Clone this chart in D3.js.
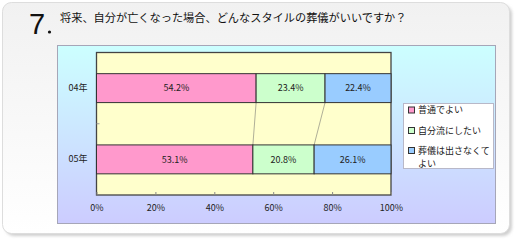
<!DOCTYPE html>
<html>
<head>
<meta charset="utf-8">
<script src="https://cdn.jsdelivr.net/npm/d3@7"></script>
<style>
  body { margin: 0; background: #fff; }
  text { font-family: "Noto Sans CJK JP", "Noto Sans", sans-serif; fill: #222; }
</style>
</head>
<body>
<div id="chart"></div>
<script>
// chart data
var categories = ["04年", "05年"];
var seriesNames = ["普通でよい", "自分流にしたい", "葬儀は出さなくて\nよい"];
var ordinary = [54.2, 53.1];
var ownStyle = [23.4, 20.8];
var noFuneral = [22.4, 26.1];
var xTicks = [0, 20, 40, 60, 80, 100];
var colors = ["#ff99cc", "#ccffcc", "#99ccff"];

var width = 521, height = 246;

var svg = d3.select("#chart")
  .append("svg")
  .attr("width", width)
  .attr("height", height);

var defs = svg.append("defs");
var cardGrad = defs.append("linearGradient").attr("id", "cardGrad")
  .attr("x1", 0).attr("y1", 0).attr("x2", 0).attr("y2", 1);
cardGrad.append("stop").attr("offset", "0%").attr("stop-color", "#f1f1f1");
cardGrad.append("stop").attr("offset", "100%").attr("stop-color", "#ffffff");

var areaGrad = defs.append("linearGradient").attr("id", "areaGrad")
  .attr("x1", 0).attr("y1", 0).attr("x2", 0).attr("y2", 1);
areaGrad.append("stop").attr("offset", "0%").attr("stop-color", "#ccffff");
areaGrad.append("stop").attr("offset", "100%").attr("stop-color", "#ccccff");

defs.append("filter").attr("id", "blur")
  .append("feGaussianBlur").attr("stdDeviation", 1.5);

// card with shadow
svg.append("rect")
  .attr("x", 5).attr("y", 5).attr("width", 507).attr("height", 231)
  .attr("rx", 9)
  .attr("fill", "#cfcfcf")
  .attr("filter", "url(#blur)");
svg.append("rect")
  .attr("x", 2.5).attr("y", 2.5).attr("width", 507).attr("height", 231)
  .attr("rx", 9)
  .attr("fill", "url(#cardGrad)")
  .attr("stroke", "#dddddd");

// title
svg.append("text")
  .attr("x", 29).attr("y", 34)
  .style("font-family", "Liberation Sans, Arial, sans-serif")
  .style("font-size", "29px")
  .style("fill", "#111")
  .text("7");
svg.append("circle")
  .attr("cx", 49.5).attr("cy", 32).attr("r", 1.6)
  .attr("fill", "#111");
svg.append("text")
  .attr("x", 60).attr("y", 22)
  .style("font-size", "11.2px")
  .style("fill", "#111")
  .text("将来、自分が亡くなった場合、どんなスタイルの葬儀がいいですか？");

// chart area
svg.append("rect")
  .attr("x", 57.5).attr("y", 45.5).attr("width", 438).attr("height", 178)
  .attr("fill", "url(#areaGrad)")
  .attr("stroke", "#a6a6b8");

var x = d3.scaleLinear().domain([0, 100]).range([96.5, 391]);
var y = d3.scaleBand().domain(categories).range([52.5, 195])
  .paddingInner(0.594).paddingOuter(0.297);

// plot area
svg.append("rect")
  .attr("x", x(0)).attr("y", 52.5)
  .attr("width", x(100) - x(0)).attr("height", 195 - 52.5)
  .attr("fill", "#ffffcc")
  .attr("stroke", "#444")
  .attr("stroke-width", 1.3);

var rows = categories.map(function(c, i) {
  return { cat: c, s0: ordinary[i], s1: ownStyle[i], s2: noFuneral[i] };
});
var stack = d3.stack().keys(["s0", "s1", "s2"]);
var series = stack(rows);

// series lines between the bars
var lineG = svg.append("g");
[0, 1].forEach(function(k) {
  for (var i = 0; i < rows.length - 1; i++) {
    lineG.append("line")
      .attr("x1", x(series[k][i][1])).attr("y1", y(rows[i].cat) + y.bandwidth())
      .attr("x2", x(series[k][i + 1][1])).attr("y2", y(rows[i + 1].cat))
      .attr("stroke", "#b0b098")
      .attr("stroke-width", 1);
  }
});

// bars
var layer = svg.selectAll("g.layer")
  .data(series)
  .enter()
  .append("g")
  .attr("class", "layer")
  .attr("fill", function(d, i) { return colors[i]; });

layer.selectAll("rect")
  .data(function(d) { return d; })
  .enter()
  .append("rect")
  .attr("x", function(d) { return x(d[0]); })
  .attr("y", function(d) { return y(d.data.cat); })
  .attr("width", function(d) { return x(d[1]) - x(d[0]); })
  .attr("height", y.bandwidth())
  .attr("stroke", "#333")
  .attr("stroke-width", 1);

layer.selectAll("text")
  .data(function(d) { return d; })
  .enter()
  .append("text")
  .attr("x", function(d) { return (x(d[0]) + x(d[1])) / 2; })
  .attr("y", function(d) { return y(d.data.cat) + y.bandwidth() / 2; })
  .attr("dy", "0.35em")
  .attr("text-anchor", "middle")
  .style("font-size", "9px")
  .text(function(d) { return (d[1] - d[0]).toFixed(1) + "%"; });

// axes
var xAxis = svg.append("g")
  .attr("transform", "translate(0,195)")
  .call(d3.axisBottom(x)
    .tickValues(xTicks)
    .tickSizeInner(-3)
    .tickSizeOuter(0)
    .tickPadding(10)
    .tickFormat(function(d) { return d + "%"; }));
xAxis.select(".domain").remove();
xAxis.selectAll(".tick line").attr("stroke", "#888");
xAxis.selectAll("text").style("font-size", "9px").style("font-family", null).attr("fill", "#222");

var yAxis = svg.append("g")
  .attr("transform", "translate(" + x(0) + ",0)")
  .call(d3.axisLeft(y).tickSize(0).tickPadding(9));
yAxis.select(".domain").remove();
yAxis.selectAll("text").style("font-size", "9px").style("font-family", null).attr("fill", "#222");

// small tick between categories
var mid = (y(categories[0]) + y.bandwidth() + y(categories[1])) / 2;
svg.append("line")
  .attr("x1", x(0)).attr("x2", x(0) + 3)
  .attr("y1", mid).attr("y2", mid)
  .attr("stroke", "#999");

// legend
var legend = svg.append("g");
legend.append("rect")
  .attr("x", 403.5).attr("y", 103.5).attr("width", 90).attr("height", 65)
  .attr("fill", "#fff")
  .attr("stroke", "#b8b8c8");

var legendY = [110, 130.5, 150.5];
seriesNames.forEach(function(name, i) {
  legend.append("rect")
    .attr("x", 408.5).attr("y", legendY[i] - 3)
    .attr("width", 6).attr("height", 6)
    .attr("fill", colors[i])
    .attr("stroke", "#333");
  // one text per line so wrapped lines stay apart
  name.split("\n").forEach(function(part, j) {
    legend.append("text")
      .attr("x", 418)
      .attr("y", legendY[i] + j * 13.3)
      .attr("dy", "0.35em")
      .style("font-size", "9px")
      .text(part);
  });
});
</script>
</body>
</html>
